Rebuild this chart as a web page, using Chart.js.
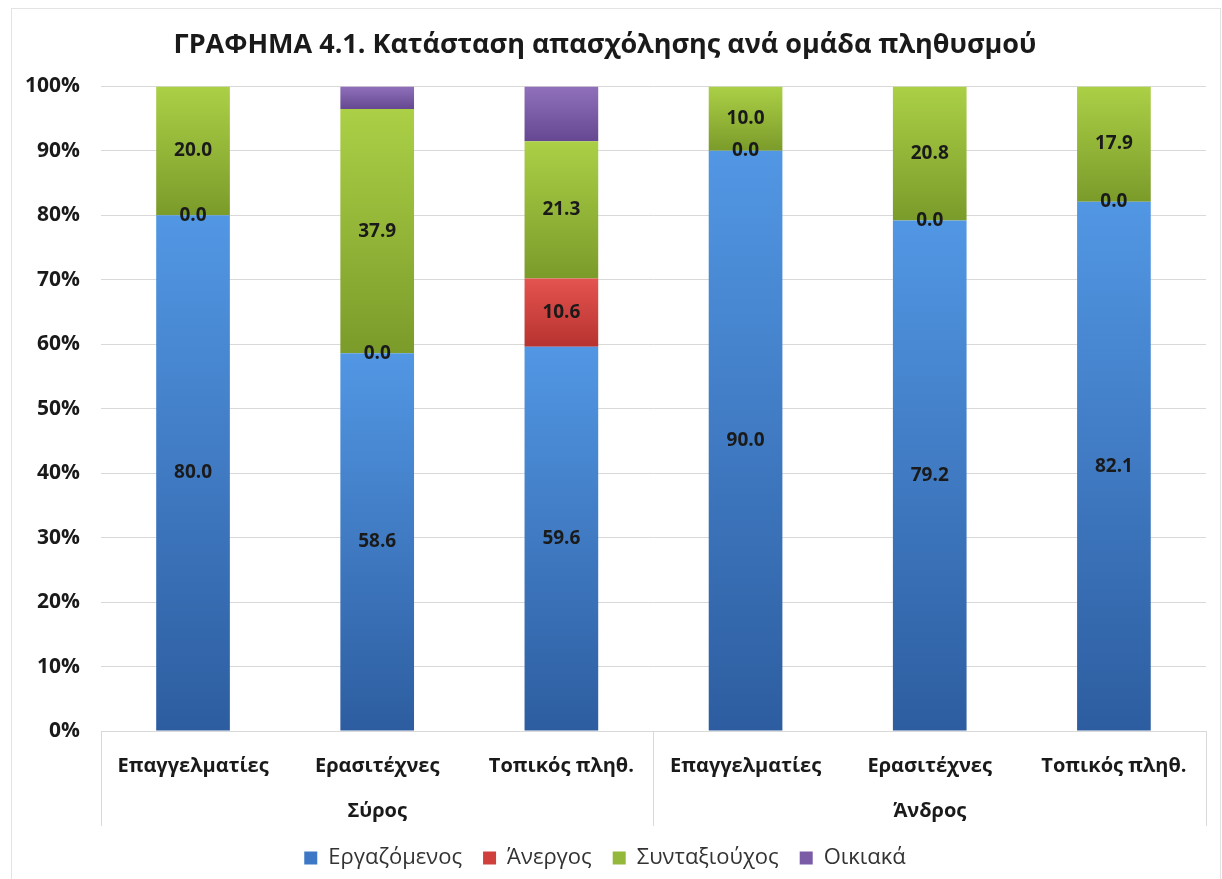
<!DOCTYPE html>
<html>
<head>
<meta charset="utf-8">
<script src="https://cdn.jsdelivr.net/npm/chart.js@4.4.1/dist/chart.umd.min.js"></script>
<style>
  html, body { margin: 0; padding: 0; background: #fff; }
  #wrap { width: 1222px; height: 879px; position: relative; }
</style>
</head>
<body>
<div id="wrap"><canvas id="chart"></canvas></div>
<script>
// δεδομένα γραφήματος
const categories = ['Επαγγελματίες', 'Ερασιτέχνες', 'Τοπικός πληθ.', 'Επαγγελματίες', 'Ερασιτέχνες', 'Τοπικός πληθ.'];
const groups = ['Σύρος', 'Άνδρος'];
const employed = [80.0, 58.6, 59.6, 90.0, 79.2, 82.1];
const unemployed = [0.0, 0.0, 10.6, 0.0, 0.0, 0.0];
const retired = [20.0, 37.9, 21.3, 10.0, 20.8, 17.9];
const household = [0.0, 3.5, 8.5, 0.0, 0.0, 0.0];
const yTicks = [0, 10, 20, 30, 40, 50, 60, 70, 80, 90, 100];

const FONT = "'Open Sans', 'Noto Sans', sans-serif";
const TEXT = '#1a1a1a';

// χρώματα: [πάνω, κάτω, επίπεδο]
const palette = [
    ['#5297e4', '#2d5da0', '#3c78c6'],
    ['#e4534f', '#b7332f', '#cf403c'],
    ['#abd046', '#7b9b2a', '#94b83a'],
    ['#9070ba', '#654891', '#7b5ba6']
];

const seriesData = [employed, unemployed, retired, household];

function segmentFill(ctx) {
    const col = palette[ctx.datasetIndex];
    if (ctx.type !== 'data') return col[2];
    const chart = ctx.chart;
    const y = chart.scales.y;
    if (!y || !chart.chartArea) return col[2];
    let start = 0;
    for (let d = 0; d < ctx.datasetIndex; d++) start += seriesData[d][ctx.dataIndex];
    const end = start + seriesData[ctx.datasetIndex][ctx.dataIndex];
    const top = y.getPixelForValue(end);
    const bot = y.getPixelForValue(start);
    if (!isFinite(top) || !isFinite(bot) || bot - top < 1) return col[2];
    const g = chart.ctx.createLinearGradient(0, top, 0, bot);
    g.addColorStop(0, col[0]);
    g.addColorStop(1, col[1]);
    return g;
}

// πλαίσιο γύρω από το γράφημα
const framePlugin = {
    id: 'frame',
    beforeDraw(chart) {
        const c = chart.ctx;
        c.save();
        c.fillStyle = '#fff';
        c.fillRect(0, 0, chart.width, chart.height);
        c.strokeStyle = '#e3e3e3';
        c.lineWidth = 1;
        c.strokeRect(11.5, 8.5, chart.width - 13, chart.height);
        c.restore();
    }
};

// ετικέτες τιμών πάνω στις μπάρες
const valueLabels = {
    id: 'valueLabels',
    afterDatasetsDraw(chart) {
        const c = chart.ctx;
        c.save();
        c.font = 'bold 19px ' + FONT;
        c.fillStyle = TEXT;
        c.textAlign = 'center';
        c.textBaseline = 'middle';
        chart.data.datasets.forEach((ds, i) => {
            if (!ds.showValues) return;
            chart.getDatasetMeta(i).data.forEach((bar, j) => {
                const v = ds.data[j];
                const cy = (bar.y + bar.base) / 2;
                c.fillText(v.toFixed(1), bar.x, cy);
            });
        });
        c.restore();
    }
};

// διαχωριστικές γραμμές κάτω από τον άξονα x
const groupLines = {
    id: 'groupLines',
    afterDraw(chart) {
        const x = chart.scales.x;
        const x2 = chart.scales.x2;
        const c = chart.ctx;
        const step = (x.right - x.left) / categories.length;
        const top = chart.chartArea.bottom;
        const bottom = x2.bottom;
        c.save();
        c.strokeStyle = '#d9d9d9';
        c.lineWidth = 1;
        c.beginPath();
        c.moveTo(x.left, top + 0.5);
        c.lineTo(x.right, top + 0.5);
        [0, 3, 6].forEach(k => {
            const px = Math.round(x.left + k * step) + 0.5;
            c.moveTo(px, top);
            c.lineTo(px, bottom);
        });
        c.stroke();
        c.restore();
    }
};

function makeDataset(label, data, showValues) {
    return {
        label: label,
        data: data,
        showValues: showValues,
        backgroundColor: segmentFill,
        borderWidth: 0,
        barPercentage: 0.4,
        categoryPercentage: 1.0
    };
}

new Chart(document.getElementById('chart'), {
    type: 'bar',
    data: {
        labels: categories,
        datasets: [
            makeDataset('Εργαζόμενος', employed, true),
            makeDataset('Άνεργος', unemployed, true),
            makeDataset('Συνταξιούχος', retired, true),
            makeDataset('Οικιακά', household, false)
        ]
    },
    options: {
        responsive: true,
        maintainAspectRatio: false,
        animation: false,
        layout: { padding: { left: 4, right: 16, top: 8, bottom: 0 } },
        plugins: {
            title: {
                display: true,
                text: 'ΓΡΑΦΗΜΑ 4.1. Κατάσταση απασχόλησης ανά ομάδα πληθυσμού',
                color: TEXT,
                font: { family: FONT, size: 27, weight: 'bold' },
                padding: { top: 21, bottom: 25 }
            },
            legend: {
                position: 'bottom',
                maxHeight: 54,
                labels: {
                    color: '#333',
                    font: { family: FONT, size: 22 },
                    boxWidth: 13,
                    boxHeight: 13,
                    padding: 21,
                    generateLabels(chart) {
                        return chart.data.datasets.map((ds, i) => ({
                            text: ds.label,
                            fillStyle: palette[i][2],
                            strokeStyle: palette[i][2],
                            lineWidth: 0,
                            fontColor: '#333',
                            datasetIndex: i
                        }));
                    }
                }
            },
            tooltip: { enabled: false }
        },
        scales: {
            x: {
                stacked: true,
                grid: { display: false, drawTicks: false },
                border: { display: false },
                ticks: {
                    color: TEXT,
                    font: { family: FONT, size: 20, weight: 'bold', lineHeight: 1.2 },
                    padding: 23,
                    maxRotation: 0,
                    autoSkip: false
                },
                afterFit(axis) { axis.height = 68; }
            },
            x2: {
                type: 'category',
                position: 'bottom',
                labels: groups,
                offset: true,
                grid: { display: false, drawTicks: false },
                border: { display: false },
                ticks: {
                    color: TEXT,
                    font: { family: FONT, size: 20, weight: 'bold', lineHeight: 1.2 },
                    padding: 0
                },
                afterFit(axis) { axis.height = 27; }
            },
            y: {
                stacked: true,
                min: 0,
                max: 100,
                afterBuildTicks(axis) {
                    axis.ticks = yTicks.map(v => ({ value: v }));
                },
                grid: { color: '#d9d9d9', drawTicks: false },
                border: { display: false },
                ticks: {
                    color: TEXT,
                    font: { family: FONT, size: 21, weight: 'bold' },
                    padding: 21,
                    callback: v => v + '%'
                }
            }
        }
    },
    plugins: [framePlugin, valueLabels, groupLines]
});
</script>
</body>
</html>
